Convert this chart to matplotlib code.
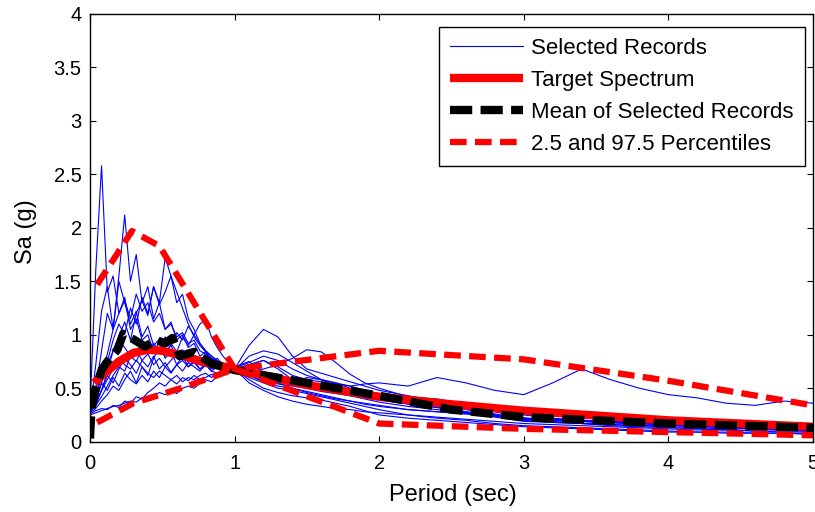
import numpy as np
import matplotlib.pyplot as plt

plt.rcParams['font.family'] = ['Liberation Sans', 'DejaVu Sans']
plt.rcParams['lines.scale_dashes'] = False

# periods (sec) used by the selected records
periods = [0.0, 0.04, 0.08, 0.12, 0.16, 0.20, 0.24, 0.28, 0.32, 0.36, 0.40, 0.44, 0.48,
           0.52, 0.56, 0.60, 0.64, 0.68, 0.72, 0.76, 0.80, 0.84, 0.88, 0.92, 0.96, 1.0,
           1.1, 1.2, 1.3, 1.4, 1.5, 1.6, 1.7, 1.8, 1.9, 2.0,
           2.2, 2.4, 2.6, 2.8, 3.0, 3.2, 3.4, 3.6, 3.8, 4.0, 4.2, 4.4, 4.6, 4.8, 5.0]

rec01 = [0.30, 1.60, 2.58, 1.40, 1.55, 1.20, 1.35, 1.05, 1.15, 0.95, 1.00, 0.85, 0.92,
         0.78, 0.85, 0.72, 0.80, 0.70, 0.76, 0.68, 0.72, 0.66, 0.70, 0.64, 0.67, 0.68,
         0.64, 0.60, 0.57, 0.54, 0.50, 0.48, 0.46, 0.43, 0.40, 0.37,
         0.33, 0.30, 0.27, 0.24, 0.21, 0.20, 0.19, 0.18, 0.17, 0.16, 0.15, 0.14, 0.13, 0.12, 0.11]
rec02 = [0.28, 0.50, 0.85, 1.20, 1.05, 1.55, 2.12, 1.50, 1.75, 1.30, 1.45, 1.15, 1.30,
         1.05, 1.12, 0.95, 1.00, 0.88, 0.92, 0.80, 0.84, 0.75, 0.78, 0.72, 0.70, 0.69,
         0.74, 0.80, 0.76, 0.68, 0.62, 0.58, 0.55, 0.50, 0.46, 0.42,
         0.38, 0.33, 0.28, 0.23, 0.19, 0.18, 0.17, 0.16, 0.15, 0.15, 0.14, 0.13, 0.12, 0.11, 0.10]
rec03 = [0.30, 0.38, 0.55, 0.75, 0.95, 1.10, 1.00, 1.25, 1.10, 1.35, 1.20, 1.45, 1.30,
         1.72, 1.55, 1.40, 1.25, 1.10, 0.98, 0.90, 0.84, 0.78, 0.75, 0.72, 0.69, 0.67,
         0.62, 0.57, 0.54, 0.52, 0.50, 0.47, 0.45, 0.43, 0.41, 0.39,
         0.36, 0.32, 0.27, 0.24, 0.21, 0.20, 0.19, 0.18, 0.17, 0.17, 0.16, 0.15, 0.14, 0.13, 0.13]
rec04 = [0.30, 0.36, 0.48, 0.65, 0.85, 0.98, 1.12, 0.95, 1.20, 1.32, 1.18, 1.45, 1.28,
         1.40, 1.55, 1.30, 1.38, 1.15, 1.05, 0.92, 0.85, 0.80, 0.76, 0.72, 0.70, 0.68,
         0.72, 0.76, 0.68, 0.58, 0.53, 0.50, 0.48, 0.46, 0.44, 0.42,
         0.40, 0.38, 0.32, 0.26, 0.21, 0.19, 0.17, 0.16, 0.15, 0.14, 0.13, 0.12, 0.12, 0.11, 0.11]
rec05 = [0.28, 0.34, 0.42, 0.52, 0.62, 0.70, 0.66, 0.80, 0.75, 0.88, 0.82, 0.92, 0.85,
         0.98, 0.90, 1.02, 0.95, 1.08, 1.00, 1.10, 1.14, 0.98, 0.88, 0.80, 0.74, 0.70,
         0.75, 0.64, 0.58, 0.55, 0.60, 0.58, 0.55, 0.52, 0.48, 0.45,
         0.42, 0.40, 0.35, 0.28, 0.22, 0.20, 0.19, 0.18, 0.17, 0.16, 0.15, 0.14, 0.13, 0.13, 0.12]
rec06 = [0.27, 0.34, 0.48, 0.62, 0.55, 0.68, 0.78, 0.72, 0.64, 0.76, 0.70, 0.80, 0.68,
         0.74, 0.65, 0.72, 0.76, 0.70, 0.74, 0.68, 0.72, 0.66, 0.64, 0.62, 0.66, 0.68,
         0.90, 1.05, 0.98, 0.80, 0.68, 0.64, 0.60, 0.56, 0.52, 0.48,
         0.43, 0.38, 0.35, 0.30, 0.25, 0.22, 0.20, 0.18, 0.17, 0.16, 0.15, 0.14, 0.14, 0.13, 0.13]
rec07 = [0.29, 0.42, 0.60, 0.72, 0.85, 0.95, 0.88, 0.80, 0.86, 0.76, 0.82, 0.72, 0.78,
         0.70, 0.76, 0.82, 0.86, 0.80, 0.76, 0.72, 0.70, 0.74, 0.70, 0.66, 0.68, 0.68,
         0.64, 0.68, 0.72, 0.78, 0.86, 0.84, 0.74, 0.63, 0.55, 0.50,
         0.42, 0.36, 0.30, 0.25, 0.20, 0.18, 0.17, 0.15, 0.14, 0.13, 0.12, 0.11, 0.10, 0.10, 0.10]
rec08 = [0.30, 0.36, 0.48, 0.58, 0.68, 0.78, 0.72, 0.68, 0.76, 0.70, 0.64, 0.60, 0.66,
         0.62, 0.58, 0.62, 0.56, 0.60, 0.58, 0.62, 0.64, 0.60, 0.64, 0.66, 0.65, 0.68,
         0.72, 0.76, 0.70, 0.62, 0.58, 0.56, 0.54, 0.52, 0.54, 0.55,
         0.52, 0.60, 0.55, 0.48, 0.44, 0.55, 0.68, 0.58, 0.50, 0.44, 0.41, 0.36, 0.34, 0.38, 0.36]
rec09 = [0.25, 0.27, 0.29, 0.31, 0.33, 0.34, 0.36, 0.38, 0.37, 0.41, 0.39, 0.43, 0.46,
         0.44, 0.48, 0.45, 0.50, 0.52, 0.50, 0.55, 0.58, 0.56, 0.61, 0.64, 0.66, 0.68,
         0.60, 0.55, 0.50, 0.48, 0.45, 0.42, 0.39, 0.36, 0.33, 0.30,
         0.25, 0.22, 0.20, 0.17, 0.15, 0.14, 0.13, 0.12, 0.11, 0.10, 0.09, 0.09, 0.08, 0.08, 0.07]
rec10 = [0.30, 0.45, 0.62, 0.82, 1.05, 1.20, 1.32, 1.15, 1.38, 1.22, 1.30, 1.12, 1.20,
         1.05, 1.10, 0.98, 1.02, 0.92, 0.95, 0.85, 0.82, 0.78, 0.75, 0.72, 0.70, 0.69,
         0.62, 0.56, 0.52, 0.50, 0.47, 0.44, 0.41, 0.38, 0.35, 0.33,
         0.30, 0.28, 0.26, 0.24, 0.22, 0.21, 0.20, 0.19, 0.19, 0.18, 0.17, 0.16, 0.16, 0.15, 0.14]
rec11 = [0.28, 0.38, 0.55, 0.48, 0.60, 0.52, 0.64, 0.58, 0.54, 0.62, 0.56, 0.66, 0.60,
         0.70, 0.64, 0.72, 0.66, 0.74, 0.70, 0.66, 0.72, 0.68, 0.70, 0.66, 0.64, 0.67,
         0.80, 0.85, 0.82, 0.74, 0.66, 0.58, 0.52, 0.47, 0.43, 0.40,
         0.35, 0.32, 0.28, 0.25, 0.22, 0.20, 0.19, 0.18, 0.17, 0.16, 0.15, 0.15, 0.14, 0.14, 0.14]
rec12 = [0.27, 0.31, 0.38, 0.44, 0.52, 0.48, 0.58, 0.66, 0.55, 0.70, 0.62, 0.78, 0.88,
         0.80, 0.92, 0.84, 0.98, 0.90, 1.00, 0.92, 0.85, 0.80, 0.76, 0.72, 0.70, 0.68,
         0.58, 0.50, 0.46, 0.43, 0.41, 0.39, 0.36, 0.33, 0.29, 0.25,
         0.22, 0.20, 0.18, 0.16, 0.14, 0.13, 0.12, 0.11, 0.10, 0.09, 0.09, 0.08, 0.08, 0.08, 0.07]
rec13 = [0.26, 0.29, 0.31, 0.30, 0.34, 0.32, 0.38, 0.36, 0.42, 0.40, 0.46, 0.50, 0.55,
         0.52, 0.58, 0.54, 0.60, 0.57, 0.62, 0.58, 0.60, 0.63, 0.60, 0.65, 0.66, 0.68,
         0.55, 0.48, 0.42, 0.38, 0.35, 0.33, 0.31, 0.30, 0.28, 0.27,
         0.25, 0.23, 0.21, 0.19, 0.17, 0.16, 0.15, 0.14, 0.13, 0.12, 0.11, 0.11, 0.10, 0.09, 0.09]
rec14 = [0.29, 0.72, 1.22, 1.45, 1.05, 1.50, 1.30, 1.10, 1.22, 0.98, 1.08, 0.90, 0.96,
         0.84, 0.90, 0.78, 0.84, 0.74, 0.80, 0.72, 0.76, 0.70, 0.73, 0.69, 0.70, 0.67,
         0.70, 0.62, 0.55, 0.50, 0.46, 0.43, 0.40, 0.38, 0.36, 0.34,
         0.30, 0.28, 0.26, 0.24, 0.22, 0.21, 0.20, 0.19, 0.18, 0.17, 0.16, 0.16, 0.15, 0.15, 0.14]
records = [rec01, rec02, rec03, rec04, rec05, rec06, rec07,
           rec08, rec09, rec10, rec11, rec12, rec13, rec14]

target_T = [0.03, 0.1, 0.2, 0.3, 0.4, 0.5, 0.65, 0.8, 1.0, 1.5, 2.0, 2.5, 3.0, 4.0, 5.0]
target_Sa = [0.55, 0.64, 0.75, 0.83, 0.86, 0.85, 0.80, 0.74, 0.68, 0.53, 0.42, 0.35, 0.29, 0.20, 0.14]

mean_T = [0.0, 0.01, 0.04, 0.08, 0.12, 0.19, 0.23, 0.27, 0.31, 0.38, 0.46, 0.52, 0.57, 0.62,
          0.72, 0.84, 1.0, 1.5, 2.0, 2.5, 3.0, 3.5, 4.0, 4.5, 5.0]
mean_Sa = [0.03, 0.30, 0.50, 0.67, 0.75, 0.86, 1.01, 0.98, 0.95, 0.89, 0.95, 0.92, 0.97, 0.80,
           0.84, 0.73, 0.67, 0.55, 0.43, 0.30, 0.23, 0.20, 0.17, 0.15, 0.13]

upper_T = [0.05, 0.29, 0.48, 1.0, 2.0, 3.0, 4.0, 5.0]
upper_Sa = [1.47, 1.97, 1.83, 0.68, 0.85, 0.77, 0.57, 0.34]
lower_T = [0.05, 0.3, 0.65, 1.0, 2.0, 3.0, 4.0, 5.0]
lower_Sa = [0.18, 0.36, 0.51, 0.68, 0.17, 0.12, 0.09, 0.06]

fig = plt.figure(figsize=(8.15, 5.12), dpi=100)
ax = fig.add_axes([0.1104, 0.1373, 0.8871, 0.8354])

for i, rec in enumerate(records):
    ax.plot(periods, rec, color='#0000ff', lw=0.8,
            label='Selected Records' if i == 0 else None)
ax.plot(target_T, target_Sa, color='#ff0000', lw=6, solid_capstyle='butt',
        label='Target Spectrum')
ax.plot(mean_T, mean_Sa, color='black', lw=6, dashes=(16, 6), label='Mean of Selected Records')
ax.plot(upper_T, upper_Sa, color='#ff0000', lw=4.5, dashes=(12, 6),
        label='2.5 and 97.5 Percentiles')
ax.plot(lower_T, lower_Sa, color='#ff0000', lw=4.5, dashes=(12, 6))

ax.set_xlim(0, 5)
ax.set_ylim(0, 4)
ax.set_xticks([0, 1, 2, 3, 4, 5])
ax.set_yticks([0, 0.5, 1, 1.5, 2, 2.5, 3, 3.5, 4])
ax.set_yticklabels(['0', '0.5', '1', '1.5', '2', '2.5', '3', '3.5', '4'])
ax.tick_params(direction='in', length=4, width=0.8, top=True, right=True, labelsize=14.5)
ax.tick_params(axis='x', pad=9)
ax.tick_params(axis='y', pad=6)
for s in ax.spines.values():
    s.set_linewidth(1.0)

ax.set_xlabel('Period (sec)', fontsize=17)
ax.set_ylabel('Sa (g)', fontsize=17)
ax.xaxis.set_label_coords(0.502, -0.1)
ax.yaxis.set_label_coords(-0.073, 0.49)

leg = ax.legend(loc='upper right', bbox_to_anchor=(0.989, 0.97), fontsize=16,
                handlelength=3.3, handletextpad=0.36, labelspacing=0.5,
                borderpad=0.5, borderaxespad=0, fancybox=False, framealpha=1,
                edgecolor='black')
leg.get_frame().set_linewidth(1.0)

plt.savefig('out.png', dpi=100)
